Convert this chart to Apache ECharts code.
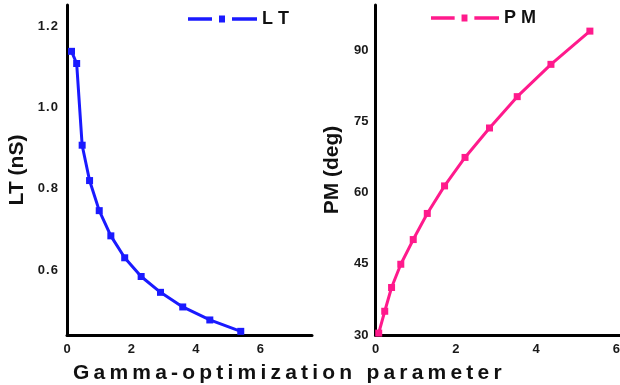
<!DOCTYPE html>
<html>
<head>
<meta charset="utf-8">
<script src="https://cdn.jsdelivr.net/npm/echarts@6/dist/echarts.min.js"></script>
<style>html,body{margin:0;padding:0;background:#fff}#c{width:620px;height:385px}</style>
</head>
<body>
<div id="c"></div>
<script>
// Gamma-optimization parameter values (x) for each series
var gammaLT = [0.14, 0.30, 0.47, 0.70, 1.00, 1.36, 1.79, 2.30, 2.90, 3.59, 4.43, 5.39];
var valuesLT = [1.138, 1.108, 0.907, 0.820, 0.746, 0.684, 0.630, 0.584, 0.545, 0.509, 0.477, 0.449];
var gammaPM = [0.08, 0.23, 0.40, 0.63, 0.94, 1.29, 1.72, 2.23, 2.84, 3.53, 4.37, 5.34];
var valuesPM = [30.4, 35.0, 40.0, 44.9, 50.1, 55.6, 61.4, 67.4, 73.6, 80.2, 87.0, 94.0];
var xTicks = [0, 2, 4, 6];
var ltTicks = [0.6, 0.8, 1.0, 1.2];
var xTitle = 'Gamma-optimization parameter';
var ltName = 'LT (nS)';
var pmName = 'PM (deg)';

var FONT = '"Liberation Sans", Arial, sans-serif';
var BLUE = '#1a1aff';
var PINK = '#ff1a8c';
var legendIcon = 'path://M0,2h24v3h-24z M31,0.5h6v6h-6z M44,2h25v3h-25z';

function pair(xs, ys){ return xs.map(function(x,i){ return [x, ys[i]]; }); }
function spaced(s){ return s.split('').join('\u2009'); }

var axisLineStyle = {show:true, lineStyle:{color:'#000', width:3}};
var labelStyle = {color:'#1a1a1a', fontFamily:FONT, fontWeight:'bold', fontSize:13};

var chart = echarts.init(document.getElementById('c'));
chart.setOption({
  animation:false,
  backgroundColor:'#fff',
  title:{
    text: xTitle.split(' ').map(spaced).join('\u2009 \u2009'),
    left:68, top:358,
    textStyle:{fontFamily:FONT, fontWeight:'bold', fontSize:21, color:'#111'}
  },
  legend:[
    {data:['LT'], left:188, top:10, padding:0, icon:legendIcon, itemWidth:69, itemHeight:7, symbolKeepAspect:false,
     formatter:function(n){return n.split('').join(' ');},
     textStyle:{fontFamily:FONT, fontWeight:'bold', fontSize:18, color:'#111'}},
    {data:['PM'], left:431, top:9, padding:0, icon:legendIcon, itemWidth:68, itemHeight:7, symbolKeepAspect:false,
     formatter:function(n){return n.split('').join(' ');},
     textStyle:{fontFamily:FONT, fontWeight:'bold', fontSize:18, color:'#111'}}
  ],
  grid:[
    {left:67, top:5, width:245, height:330, outerBoundsMode:'none'},
    {left:375.5, top:5, width:244.5, height:330, outerBoundsMode:'none'}
  ],
  xAxis:[
    {type:'value', gridIndex:0, min:0, max:7.6, axisLine:axisLineStyle, axisTick:{show:false}, splitLine:{show:false},
     axisLabel:Object.assign({margin:8, customValues:xTicks}, labelStyle)},
    {type:'value', gridIndex:1, min:0, max:6.09, axisLine:axisLineStyle, axisTick:{show:false}, splitLine:{show:false},
     axisLabel:Object.assign({margin:8, customValues:xTicks}, labelStyle)}
  ],
  yAxis:[
    {type:'value', gridIndex:0, min:0.44, max:1.252, axisLine:axisLineStyle, axisTick:{show:false}, splitLine:{show:false},
     name:ltName, nameLocation:'middle', nameRotate:90, nameGap:39,
     nameTextStyle:{fontFamily:FONT, fontWeight:'bold', fontSize:21, color:'#111'},
     axisLabel:Object.assign({margin:9, customValues:ltTicks, formatter:function(v){return v.toFixed(1).split('').join('\u200A');}}, labelStyle)},
    {type:'value', gridIndex:1, min:30, max:99.5, interval:15, axisLine:axisLineStyle, axisTick:{show:false}, splitLine:{show:false},
     name:pmName, nameLocation:'middle', nameRotate:90, nameGap:33,
     nameTextStyle:{fontFamily:FONT, fontWeight:'bold', fontSize:21, color:'#111'},
     axisLabel:Object.assign({margin:7, showMaxLabel:false}, labelStyle)}
  ],
  series:[
    {name:'LT', type:'line', xAxisIndex:0, yAxisIndex:0, data:pair(gammaLT, valuesLT),
     symbol:'rect', symbolSize:7, showAllSymbol:true, clip:false,
     lineStyle:{color:BLUE, width:3}, itemStyle:{color:BLUE}},
    {name:'PM', type:'line', xAxisIndex:1, yAxisIndex:1, data:pair(gammaPM, valuesPM),
     symbol:'rect', symbolSize:7, showAllSymbol:true, clip:false,
     lineStyle:{color:PINK, width:3}, itemStyle:{color:PINK}}
  ]
});
</script>
</body>
</html>
